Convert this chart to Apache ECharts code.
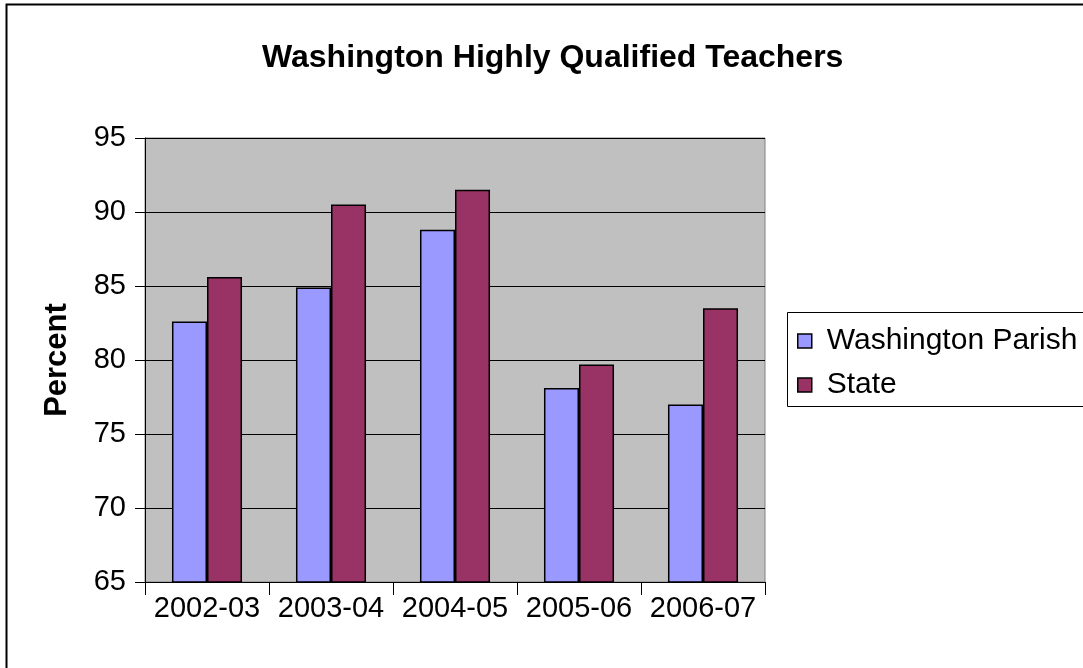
<!DOCTYPE html>
<html>
<head>
<meta charset="utf-8">
<script src="https://cdn.jsdelivr.net/npm/echarts@6/dist/echarts.min.js"></script>
<style>
html,body{margin:0;padding:0;background:#fff;}
#chart{width:1083px;height:668px;}
</style>
</head>
<body>
<div id="chart"></div>
<script>
const categories = ['2002-03', '2003-04', '2004-05', '2005-06', '2006-07'];
const parishValues = [82.6, 84.9, 88.8, 78.1, 77.0];
const stateValues = [85.6, 90.5, 91.5, 79.7, 83.5];
const seriesNames = ['Washington Parish', 'State'];
const yTicks = [65, 70, 75, 80, 85, 90, 95];

const font = 'Liberation Sans, Arial, sans-serif';
const chart = echarts.init(document.getElementById('chart'), null, {renderer: 'canvas'});
chart.setOption({
  backgroundColor: '#fff',
  animation: false,
  textStyle: {fontFamily: font},
  title: {
    text: 'Washington Highly Qualified Teachers',
    left: 257, top: 37, itemGap: 0,
    textStyle: {fontFamily: font, fontSize: 32, fontWeight: 'bold', color: '#000'}
  },
  grid: {left: 145, top: 138, width: 620, height: 444, containLabel: false,
         show: true, backgroundColor: '#C0C0C0', borderColor: '#808080', borderWidth: 1},
  legend: {
    orient: 'vertical', left: 792, top: 321, itemWidth: 14, itemHeight: 14, itemGap: 14,
    icon: 'rect',
    itemStyle: {borderColor: '#000', borderWidth: 1.5},
    textStyle: {fontFamily: font, fontSize: 30, color: '#000', padding: [0,0,0,10]},
    data: seriesNames
  },
  graphic: [
    {type: 'rect', shape: {x: 6.5, y: 4.5, width: 1100, height: 700}, style: {fill: 'none', stroke: '#000', lineWidth: 2}, z: 100},
    {type: 'rect', shape: {x: 787.5, y: 312.5, width: 320, height: 94}, style: {fill: '#fff', stroke: '#000', lineWidth: 1}, z: 0}
  ],
  xAxis: {
    type: 'category', data: categories,
    axisLine: {lineStyle: {color: '#000', width: 1}},
    axisTick: {show: true, length: 13, lineStyle: {color: '#000'}},
    axisLabel: {fontFamily: font, fontSize: 29, color: '#000', margin: 12, interval: 0}
  },
  yAxis: {
    type: 'value', min: yTicks[0], max: yTicks[yTicks.length-1], interval: 5,
    name: 'Percent', nameLocation: 'middle', nameGap: 72, nameRotate: 90,
    nameTextStyle: {fontFamily: font, fontSize: 31, fontWeight: 'bold', color: '#000'},
    axisLine: {show: true, lineStyle: {color: '#000'}},
    axisTick: {show: true, length: 10, lineStyle: {color: '#000'}},
    axisLabel: {fontFamily: font, fontSize: 29, color: '#000', margin: 19},
    splitLine: {show: true, lineStyle: {color: '#000', width: 1}}
  },
  series: [
    {name: seriesNames[0], type: 'bar', data: parishValues, barGap: '0%', barCategoryGap: '43.5%',
     itemStyle: {color: '#9999FF', borderColor: '#000', borderWidth: 1.5}},
    {name: seriesNames[1], type: 'bar', data: stateValues, barGap: '0%', barCategoryGap: '43.5%',
     itemStyle: {color: '#993366', borderColor: '#000', borderWidth: 1.5}}
  ]
});
</script>
</body>
</html>
